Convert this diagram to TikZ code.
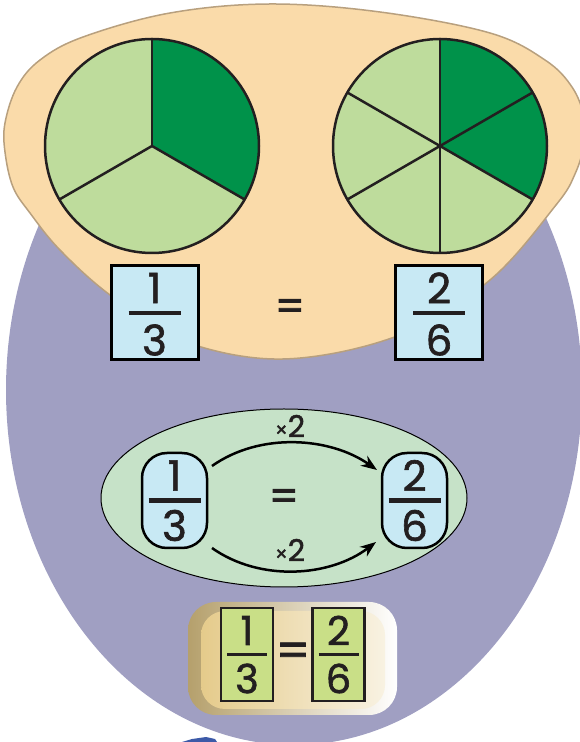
\documentclass[tikz,border=0pt]{standalone}
\usepackage{fontspec}
\setmainfont{Poppins}[FakeBold=1.5]
\usetikzlibrary{arrows.meta,calc}
\definecolor{purpleBg}{HTML}{A09FC2}
\definecolor{orangeBg}{HTML}{FADBAA}
\definecolor{orangeEdge}{HTML}{B8A07E}
\definecolor{lgreen}{HTML}{BEDC9C}
\definecolor{dgreen}{HTML}{00924A}
\definecolor{lblue}{HTML}{C8E9F4}
\definecolor{pgreen}{HTML}{C6E2C8}
\definecolor{lime}{HTML}{C9DF87}
\definecolor{tanL}{HTML}{B5A06C}
\definecolor{tanM}{HTML}{E6D3A3}
\definecolor{inL}{HTML}{E5CB8B}
\definecolor{inM}{HTML}{EED8A8}
\definecolor{inR}{HTML}{F8F2E2}
\definecolor{fragBlue}{HTML}{3D5AA8}
\definecolor{ink}{HTML}{231F20}
\begin{document}
\begin{tikzpicture}[x=1pt,y=1pt,
  digit/.style={inner sep=0pt, text=ink, font=\fontsize{42}{42}\selectfont},
  sdigit/.style={inner sep=0pt, text=ink, font=\fontsize{40}{40}\selectfont},
  mullabel/.style={inner sep=0pt, text=ink, font=\fontsize{30}{30}\selectfont},
  topbox/.style={draw=black, line width=3, fill=lblue, minimum width=87, minimum height=94, inner sep=0pt},
  midbox/.style={draw=black, line width=2.5, fill=lblue, minimum width=65, minimum height=95, rounded corners=25, inner sep=0pt},
  lowbox/.style={draw=ink, line width=2.5, fill=lime, minimum width=52, minimum height=93, inner sep=0pt},
  pieline/.style={draw=ink, line width=2.5},
  fracbar/.style={ink, line width=4.5},
  arr/.style={draw=black, line width=2.5, -{Stealth[length=16pt,width=12pt]}}
]
\useasboundingbox (0,0) rectangle (580,742);
% background shapes
\fill[purpleBg] (294,352) ellipse [x radius=288, y radius=355];
\draw[orangeEdge, fill=orangeBg, line width=1.5] plot[smooth cycle, tension=0.6] coordinates {
 (5,619) (17,655) (40,682) (83,705) (170,729) (270,738) (380,730) (490,709)
 (545,682) (572,655) (584,625) (584,598) (575,568) (556,537) (490,462)
 (400,407) (283,383) (180,402) (110,447) (60,492) (30,529) (13,555) (5,590)};
% pies
\begin{scope}[shift={(152,596)}]
 \fill[lgreen] (0,0) circle (107);
 \fill[dgreen] (0,0) -- (90:107) arc[start angle=90, end angle=-30, radius=107] -- cycle;
 \foreach \a in {90,210,330} \draw[pieline] (0,0) -- (\a:107);
 \draw[pieline] (0,0) circle (107);
\end{scope}
\begin{scope}[shift={(440,596)}]
 \fill[lgreen] (0,0) circle (107);
 \fill[dgreen] (0,0) -- (90:107) arc[start angle=90, end angle=-30, radius=107] -- cycle;
 \foreach \a in {30,90,150,210,270,330} \draw[pieline] (0,0) -- (\a:107);
 \draw[pieline] (0,0) circle (107);
\end{scope}
% top fractions
\node[topbox] (t1) at (154.5,429) {};
\node[topbox] (t2) at (439,429) {};
\node[digit] (t1n) at ([yshift=25]t1.center) {1};
\node[digit] (t1d) at ([yshift=-27]t1.center) {3};
\draw[fracbar] ([xshift=-26]t1.center) -- ([xshift=26]t1.center);
\node[digit] (t2n) at ([yshift=25]t2.center) {2};
\node[digit] (t2d) at ([yshift=-27]t2.center) {6};
\draw[fracbar] ([xshift=-26]t2.center) -- ([xshift=26]t2.center);
\node[digit] (teq) at (290,432) {=};
% middle ellipse
\fill[pgreen, draw=black, line width=1] (284,244) ellipse [x radius=183, y radius=89];
\node[midbox] (m1) at (174.5,241.5) {};
\node[midbox] (m2) at (414.5,241.5) {};
\node[digit] (m1n) at ([yshift=25]m1.center) {1};
\node[digit] (m1d) at ([yshift=-25]m1.center) {3};
\draw[fracbar] ([xshift=-26]m1.center) -- ([xshift=26]m1.center);
\node[digit] (m2n) at ([yshift=25]m2.center) {2};
\node[digit] (m2d) at ([yshift=-25]m2.center) {6};
\draw[fracbar] ([xshift=-26]m2.center) -- ([xshift=26]m2.center);
\node[digit] (meq) at (284,242) {=};
\coordinate (a1s) at (212,276);
\coordinate (a1e) at (377,272);
\coordinate (a2s) at (212,194);
\coordinate (a2e) at (376,200);
\draw[arr] (a1s) .. controls (260,310) and (330,305) .. (a1e);
\draw[arr] (a2s) .. controls (260,160) and (330,165) .. (a2e);
\node[mullabel] (x1) at (290,316) {{\fontsize{20}{20}\selectfont ×}2};
\node[mullabel] (x2) at (290,192) {{\fontsize{20}{20}\selectfont ×}2};
% bottom box
\shade[left color=tanL, middle color=tanM, right color=white, rounded corners=28] (188,27) rectangle (397,140);
\shade[left color=inL, middle color=inM, right color=inR, rounded corners=24] (201,33) rectangle (385,131);
\node[lowbox] (b1) at (247,87.5) {};
\node[lowbox] (b2) at (338.5,87.5) {};
\node[sdigit] (b1n) at ([yshift=24]b1.center) {1};
\node[sdigit] (b1d) at ([yshift=-24]b1.center) {3};
\draw[ink, line width=2.5] ([xshift=-20]b1.center) -- ([xshift=20]b1.center);
\node[sdigit] (b2n) at ([yshift=24]b2.center) {2};
\node[sdigit] (b2d) at ([yshift=-24]b2.center) {6};
\draw[ink, line width=2.5] ([xshift=-20]b2.center) -- ([xshift=20]b2.center);
\node[inner sep=0pt, text=ink, font=\fontsize{48}{48}\selectfont] (beq) at (293,87) {=};
% cropped fragment at the bottom edge
\fill[fragBlue] (182,0) -- (192,3) -- (206,5) -- (215,3) -- (217,0) -- cycle;
\end{tikzpicture}
\end{document}
